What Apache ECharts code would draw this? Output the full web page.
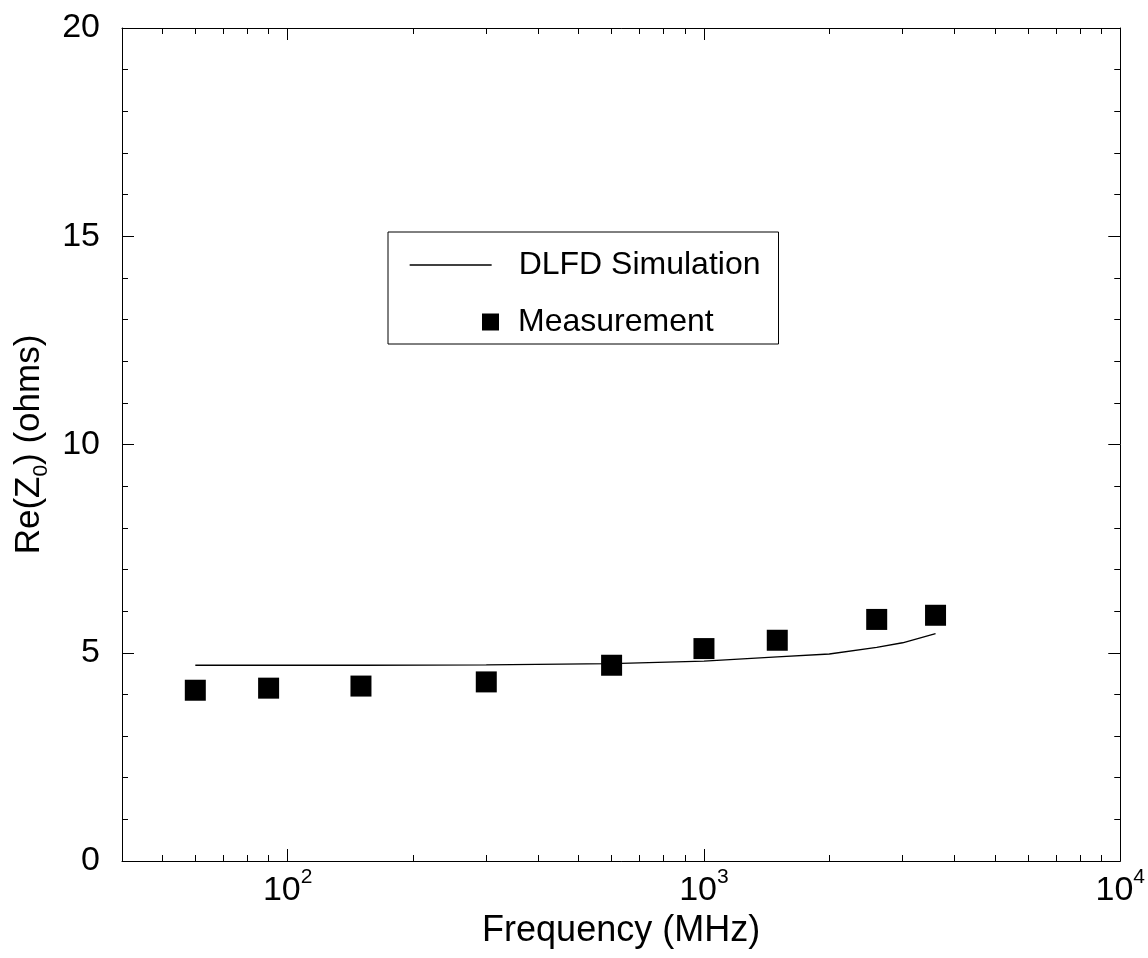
<!DOCTYPE html>
<html>
<head>
<meta charset="utf-8">
<script src="https://cdn.jsdelivr.net/npm/echarts@6/dist/echarts.min.js"></script>
<style>
  html, body { margin: 0; padding: 0; background: #fff; }
  #chart { width: 1148px; height: 958px; }
</style>
</head>
<body>
<div id="chart"></div>
<script>
// Measured real part of Z0 (ohms) against frequency (MHz)
const measFreq = [60, 90, 150, 300, 600, 1000, 1500, 2600, 3600];
const measRe   = [4.10, 4.15, 4.20, 4.30, 4.70, 5.10, 5.30, 5.80, 5.90];

// DLFD simulation curve
const simFreq = [60, 90, 150, 300, 600, 1000, 1500, 2000, 2600, 3000, 3600];
const simRe   = [4.70, 4.70, 4.70, 4.71, 4.74, 4.80, 4.90, 4.97, 5.13, 5.24, 5.46];

// Axis ticks
const decadeTicks = [100, 1000, 10000];
const minorFreqTicks = [50, 60, 70, 80, 90,
                        200, 300, 400, 500, 600, 700, 800, 900,
                        2000, 3000, 4000, 5000, 6000, 7000, 8000, 9000];
const reTicks = [0, 5, 10, 15, 20];

const FONT = '"Liberation Sans", Arial, Helvetica, sans-serif';
const INK = '#000';

function freqAxis(position, ticks, tickLen, withLine, withLabels) {
  return {
    type: 'log',
    logBase: 10,
    min: 40,
    max: 10000,
    position: position,
    splitLine: { show: false },
    axisLine: { show: withLine, onZero: false, lineStyle: { color: INK, width: 1 } },
    axisTick: { show: true, inside: true, length: tickLen, customValues: ticks,
                lineStyle: { color: INK, width: 1 } },
    axisLabel: withLabels ? {
      show: true,
      customValues: decadeTicks,
      margin: 6,
      formatter: function (v) {
        return '{b|10}{s|' + Math.round(Math.log10(v)) + '}';
      },
      rich: {
        b: { fontSize: 34, fontFamily: FONT, color: INK, lineHeight: 48 },
        s: { fontSize: 21, fontFamily: FONT, color: INK, lineHeight: 10, verticalAlign: 'top' }
      }
    } : { show: false }
  };
}

function reAxis(position, withLabels) {
  return {
    type: 'value',
    min: 0,
    max: 20,
    interval: 5,
    position: position,
    splitLine: { show: false },
    axisLine: { show: true, onZero: false, lineStyle: { color: INK, width: 1 } },
    axisTick: { show: true, inside: true, length: 12, lineStyle: { color: INK, width: 1 } },
    minorTick: { show: true, splitNumber: 5, length: 6, lineStyle: { color: INK, width: 1 } },
    axisLabel: withLabels ? {
      show: true, margin: 22, fontSize: 34, fontFamily: FONT, color: INK,
      customValues: reTicks
    } : { show: false }
  };
}

const xMain = freqAxis('bottom', decadeTicks, 12, true, true);
xMain.name = 'Frequency (MHz)';
xMain.nameLocation = 'middle';
xMain.nameGap = 46;
xMain.nameTextStyle = { fontSize: 36, fontFamily: FONT, color: INK };

const yMain = reAxis('left', true);
yMain.name = '{a|Re(Z}{s|0}{a|) (ohms)}';
yMain.nameLocation = 'middle';
yMain.nameGap = 70;
yMain.nameTextStyle = {
  rich: {
    a: { fontSize: 35, fontFamily: FONT, color: INK, lineHeight: 44 },
    s: { fontSize: 21, fontFamily: FONT, color: INK, lineHeight: 22, verticalAlign: 'bottom' }
  }
};

const option = {
  backgroundColor: '#fff',
  animation: false,
  grid: { left: 122, top: 28, right: 25, bottom: 97, containLabel: false },
  xAxis: [
    xMain,
    freqAxis('bottom', minorFreqTicks, 6, false, false),
    freqAxis('top', decadeTicks, 12, true, false),
    freqAxis('top', minorFreqTicks, 6, false, false)
  ],
  yAxis: [
    yMain,
    reAxis('right', false)
  ],
  legend: [
    {
      data: ['DLFD Simulation'],
      left: 388, top: 232,
      orient: 'vertical',
      itemWidth: 82, itemHeight: 17,
      padding: [17, 18, 63, 21],
      borderColor: INK, borderWidth: 1, backgroundColor: '#fff',
      selectedMode: false,
      z: 3,
      // the line sample carries no marker
      itemStyle: { opacity: 0 },
      lineStyle: { color: INK, width: 1.3 },
      textStyle: { fontSize: 32, fontFamily: FONT, color: INK, padding: [0, 0, 0, 22] }
    },
    {
      data: ['Measurement'],
      left: 482, top: 306,
      orient: 'vertical',
      itemWidth: 17, itemHeight: 17,
      padding: 0,
      selectedMode: false,
      z: 4,
      itemStyle: { color: INK, opacity: 1 },
      textStyle: { fontSize: 32, fontFamily: FONT, color: INK, padding: [0, 0, 0, 14] }
    }
  ],
  series: [
    {
      name: 'DLFD Simulation',
      type: 'line',
      xAxisIndex: 0, yAxisIndex: 0,
      symbol: 'none',
      lineStyle: { color: INK, width: 1.3 },
      itemStyle: { color: INK },
      data: simFreq.map((f, i) => [f, simRe[i]]),
      z: 2
    },
    {
      name: 'Measurement',
      type: 'scatter',
      xAxisIndex: 0, yAxisIndex: 0,
      symbol: 'rect',
      symbolSize: 21,
      itemStyle: { color: INK, opacity: 1 },
      data: measFreq.map((f, i) => [f, measRe[i]]),
      z: 3
    }
  ]
};

const chart = echarts.init(document.getElementById('chart'), null, { renderer: 'canvas' });
chart.setOption(option);
</script>
</body>
</html>
